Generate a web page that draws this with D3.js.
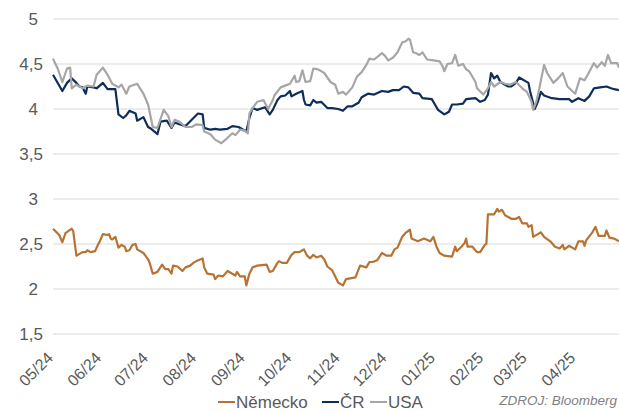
<!DOCTYPE html>
<html>
<head>
<meta charset="utf-8">
<script src="https://cdn.jsdelivr.net/npm/d3@7"></script>
<style>
  body { margin: 0; background: #fff; }
  svg { font-family: "Liberation Sans", Arial, sans-serif; }
  .grid line { stroke: #d9d9d9; stroke-width: 1; }
  .line { fill: none; stroke-width: 2.2; stroke-linejoin: round; }
</style>
</head>
<body>
<svg id="chart" width="619" height="411"></svg>
<script>
const margin = {top:19, right:0, bottom:77, left:53};

const colorDE = '#b87333';
const colorCZ = '#0d2d5a';
const colorUS = '#a6a6a6';

// days since 2024-05-01, yield in %
const germany = [
  [0,2.67],[4,2.60],[6,2.52],[8,2.62],[12,2.67],[13,2.64],[15,2.37],[17,2.39],[19,2.41],[21,2.41],
  [22,2.43],[24,2.41],[27,2.42],[28,2.46],[30,2.53],[32,2.61],[35,2.60],[36,2.61],[37,2.56],[38,2.55],
  [40,2.58],[42,2.46],[44,2.49],[46,2.47],[47,2.42],[49,2.43],[51,2.49],[53,2.50],[54,2.44],[58,2.40],
  [61,2.33],[62,2.29],[64,2.17],[67,2.19],[70,2.27],[72,2.22],[74,2.22],[76,2.17],[77,2.26],[80,2.25],
  [83,2.20],[85,2.24],[88,2.26],[90,2.29],[92,2.31],[96,2.34],[97,2.24],[99,2.17],[103,2.16],[104,2.11],
  [106,2.15],[109,2.14],[112,2.20],[115,2.17],[117,2.15],[118,2.19],[120,2.14],[123,2.14],[124,2.04],[126,2.17],
  [128,2.24],[131,2.26],[137,2.27],[139,2.19],[141,2.20],[144,2.29],[145,2.31],[147,2.29],[150,2.29],[153,2.38],
  [155,2.41],[158,2.41],[160,2.43],[161,2.44],[163,2.37],[165,2.34],[167,2.38],[169,2.35],[172,2.37],[174,2.33],
  [176,2.25],[179,2.21],[183,2.07],[186,2.04],[188,2.11],[194,2.13],[197,2.26],[201,2.24],[203,2.30],[205,2.30],
  [208,2.32],[211,2.40],[214,2.37],[217,2.37],[219,2.44],[221,2.46],[224,2.58],[226,2.62],[229,2.66],[230,2.56],
  [234,2.53],[238,2.56],[242,2.53],[244,2.58],[246,2.47],[248,2.40],[251,2.37],[256,2.36],[258,2.47],[259,2.42],
  [262,2.47],[264,2.51],[265,2.56],[266,2.47],[269,2.47],[272,2.41],[274,2.41],[277,2.49],[278,2.50],[279,2.83],
  [283,2.83],[285,2.89],[286,2.86],[288,2.88],[290,2.82],[294,2.78],[297,2.78],[299,2.80],[301,2.73],[304,2.73],
  [305,2.69],[307,2.71],[308,2.58],[311,2.61],[313,2.63],[315,2.58],[319,2.53],[322,2.47],[325,2.45],[327,2.49],
  [328,2.44],[331,2.48],[335,2.44],[337,2.53],[340,2.53],[341,2.48],[342,2.54],[346,2.63],[348,2.69],[350,2.59],
  [354,2.59],[355,2.65],[357,2.57],[360,2.56],[363,2.53]
];

const czech = [
  [0,4.38],[6,4.20],[9,4.29],[12,4.34],[15,4.29],[17,4.25],[19,4.24],[21,4.17],[22,4.25],[26,4.24],
  [28,4.23],[32,4.29],[35,4.22],[40,4.22],[42,3.94],[45,3.90],[47,3.93],[49,3.98],[53,3.95],[54,3.87],
  [58,3.91],[61,3.80],[63,3.78],[67,3.72],[69,3.86],[73,3.87],[76,3.79],[78,3.85],[81,3.83],[85,3.81],
  [89,3.88],[93,3.95],[96,3.94],[97,3.79],[101,3.77],[104,3.78],[107,3.77],[112,3.78],[115,3.81],[119,3.80],
  [122,3.77],[124,3.75],[126,3.90],[128,4.01],[131,3.99],[136,4.02],[139,3.94],[141,3.99],[144,4.10],[146,4.14],
  [149,4.15],[152,4.20],[153,4.14],[156,4.17],[160,4.20],[161,4.10],[162,4.05],[165,4.04],[167,4.10],[169,4.07],
  [172,4.08],[176,4.01],[179,4.01],[183,4.00],[186,3.98],[189,4.03],[192,4.03],[196,4.07],[198,4.13],[202,4.17],
  [206,4.16],[211,4.20],[215,4.19],[218,4.21],[222,4.21],[225,4.25],[228,4.24],[231,4.18],[235,4.17],[237,4.12],
  [243,4.11],[245,4.05],[247,3.99],[251,3.94],[254,3.97],[256,4.05],[259,4.05],[263,4.06],[265,4.11],[271,4.12],
  [274,4.08],[277,4.10],[279,4.16],[281,4.40],[283,4.34],[285,4.37],[287,4.30],[290,4.27],[292,4.25],[294,4.25],
  [297,4.29],[299,4.35],[301,4.33],[303,4.31],[305,4.29],[306,4.20],[309,4.00],[311,4.08],[313,4.19],[315,4.15],
  [320,4.12],[325,4.11],[331,4.11],[333,4.08],[337,4.12],[341,4.09],[344,4.14],[347,4.23],[351,4.24],[355,4.25],
  [358,4.23],[360,4.22],[363,4.21]
];

const usa = [
  [0,4.56],[3,4.45],[6,4.30],[9,4.45],[11,4.46],[12,4.23],[15,4.27],[19,4.23],[22,4.26],[26,4.25],
  [28,4.38],[32,4.46],[35,4.38],[38,4.28],[42,4.24],[44,4.27],[47,4.17],[49,4.25],[54,4.28],[58,4.17],
  [61,4.05],[64,3.80],[67,3.79],[71,3.99],[74,3.92],[76,3.80],[78,3.88],[81,3.86],[85,3.80],[89,3.80],
  [92,3.83],[96,3.82],[97,3.75],[101,3.72],[104,3.66],[108,3.62],[112,3.68],[115,3.73],[117,3.71],[120,3.77],
  [123,3.76],[125,3.73],[126,3.95],[128,4.01],[131,4.08],[135,4.10],[138,4.00],[141,4.10],[142,4.15],[146,4.24],
  [149,4.26],[152,4.28],[155,4.37],[156,4.30],[158,4.31],[160,4.43],[162,4.30],[165,4.31],[167,4.45],[170,4.44],
  [174,4.40],[178,4.30],[181,4.27],[183,4.17],[186,4.19],[188,4.16],[192,4.24],[195,4.36],[198,4.41],[201,4.49],
  [203,4.56],[206,4.55],[211,4.62],[213,4.59],[215,4.54],[218,4.57],[221,4.63],[224,4.74],[226,4.75],[228,4.78],
  [229,4.77],[231,4.63],[233,4.62],[235,4.60],[237,4.63],[240,4.55],[244,4.54],[248,4.53],[250,4.47],[251,4.42],
  [253,4.50],[256,4.51],[258,4.60],[260,4.48],[263,4.50],[265,4.44],[267,4.42],[271,4.30],[272,4.23],[276,4.16],
  [279,4.23],[281,4.30],[283,4.25],[287,4.30],[290,4.28],[293,4.27],[297,4.30],[301,4.23],[304,4.19],[307,4.08],
  [308,3.99],[310,4.08],[312,4.23],[315,4.49],[317,4.40],[321,4.29],[324,4.34],[327,4.40],[330,4.25],[335,4.17],
  [338,4.34],[341,4.32],[343,4.38],[347,4.51],[349,4.46],[352,4.52],[354,4.48],[356,4.60],[358,4.51],[362,4.51],
  [363,4.46]
];

const monthLabels = ['05/24','06/24','07/24','08/24','09/24','10/24','11/24','12/24','01/25','02/25','03/25','04/25'];
const yTicks = [1.5, 2, 2.5, 3, 3.5, 4, 4.5, 5];
const legendLabels = ['Německo', 'ČR', 'USA'];

const startDate = new Date(2024, 4, 1);
const endDate = new Date(2025, 4, 1);

function chart(){

    let svg = d3.select('#chart');
    let width = 619 - margin.left - margin.right;
    let height = 411 - margin.top - margin.bottom;

    let g = svg.append('g')
      .attr('transform', 'translate('+margin.left+','+margin.top+')');

    // set ranges
    let x = d3.scaleTime().domain([startDate, endDate]).range([0, 569]);
    let y = d3.scaleLinear().domain([1.5, 5]).range([height, 0]);

    // horizontal grid
    g.append('g')
      .attr('class', 'grid')
      .selectAll('line')
      .data(yTicks)
      .join('line')
      .attr('x1', 0)
      .attr('x2', width)
      .attr('y1', d => y(d))
      .attr('y2', d => y(d));

    // y labels
    const fmt = d => String(d).replace('.', ',');
    g.append('g')
      .attr('class', 'axis axis-y')
      .selectAll('text')
      .data(yTicks)
      .join('text')
      .attr('x', d => Number.isInteger(d) ? -15 : -10)
      .attr('y', d => y(d))
      .attr('dy', '0.36em')
      .attr('text-anchor', 'end')
      .attr('fill', '#595959')
      .style('font-size', '17px')
      .text(fmt);

    // x labels, one per month
    let months = d3.timeMonth.range(startDate, endDate);
    g.append('g')
      .attr('class', 'axis axis-x')
      .selectAll('text')
      .data(months)
      .join('text')
      .attr('transform', d => 'translate(' + (x(d) + 1) + ',' + (height + 25) + ') rotate(-45)')
      .attr('text-anchor', 'end')
      .attr('fill', '#595959')
      .style('font-size', '16px')
      .text((d, i) => monthLabels[i]);

    // lines
    let valueLine = d3.line()
      .x(function(d) {return x(d3.timeDay.offset(startDate, d[0]));})
      .y(function(d) {return y(d[1]);});

    [[germany, colorDE], [czech, colorCZ], [usa, colorUS]].forEach(function(s) {
      g.append('path')
        .datum(s[0])
        .attr('class', 'line')
        .attr('stroke', s[1])
        .attr('d', valueLine);
    });

    // legend
    let legend = svg.append('g')
      .attr('class', 'legend')
      .attr('transform', 'translate(218,402)')
      .style('font-size', '17px');
    const legendX = [0, 104, 152];
    const legendColors = [colorDE, colorCZ, colorUS];
    legendLabels.forEach(function(label, i) {
      legend.append('line')
        .attr('x1', legendX[i])
        .attr('x2', legendX[i] + 17)
        .attr('y1', 0)
        .attr('y2', 0)
        .attr('stroke', legendColors[i])
        .attr('stroke-width', 2);
      legend.append('text')
        .attr('x', legendX[i] + 18)
        .attr('y', 0)
        .attr('dy', '0.36em')
        .attr('fill', '#595959')
        .text(label);
    });

    // source
    svg.append('text')
      .attr('x', 617)
      .attr('y', 400)
      .attr('dy', '0.36em')
      .attr('text-anchor', 'end')
      .attr('fill', '#7f7f7f')
      .style('font-size', '13.5px')
      .style('font-style', 'italic')
      .text('ZDROJ: Bloomberg');
}

chart();
</script>
</body>
</html>
